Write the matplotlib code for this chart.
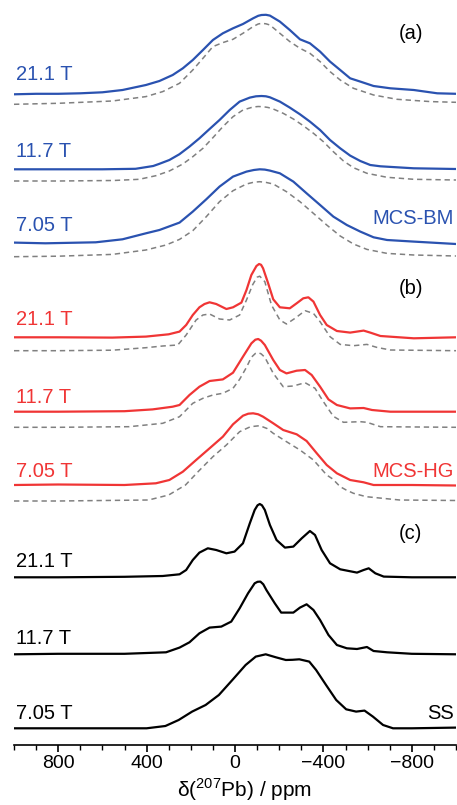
#!/usr/bin/env python3
"""Stacked 207Pb NMR spectra at three fields, with fitted curves (dashed)."""

import matplotlib
matplotlib.use("Agg")
import matplotlib.pyplot as plt
from matplotlib.ticker import MultipleLocator

plt.rcParams["font.family"] = ["Liberation Sans", "DejaVu Sans"]
plt.rcParams["mathtext.fontset"] = "custom"
plt.rcParams["mathtext.rm"] = "Liberation Sans"

BLUE = "#2a52b0"
RED = "#f03535"
GREY = "#808080"
BLACK = "#000000"

# ---- data: chemical shift (ppm) and intensity above each trace's baseline ----
# (a) MCS-BM
bm21_ppm = [1000, 900, 800, 700, 600, 509, 403, 342, 282, 236, 191, 145, 100, 55, 9,
            -36, -82, -105, -120, -140, -158, -203, -248, -294, -339, -385, -430,
            -476, -521, -567, -627, -703, -809, -915, -1000]
bm21_int = [0, 0.5, 0.5, 1, 2, 4.3, 9.3, 13.3, 19.3, 26, 34.3, 44.3, 54.3, 61, 66,
            70.3, 76, 78.5, 79.3, 79.5, 78.7, 72.7, 64.3, 55, 51, 42.7, 32.7,
            24.3, 16, 12.7, 8.3, 6, 4.3, 1, 0.5]
bm21_fit_ppm = [1000, 800, 555, 403, 327, 251, 191, 145, 100, 55, 9, -36, -82, -105,
                -120, -140, -158, -203, -248, -294, -339, -385, -430, -476, -536,
                -627, -733, -885, -1000]
bm21_fit_int = [0, 1, 3.3, 7.7, 12.7, 21, 34.3, 46, 57.7, 61.7, 65, 71, 77.7, 80.3,
                81, 80.5, 79.3, 71, 62.7, 56, 51, 42.7, 32.7, 24.3, 16,
                9.3, 5, 2.7, 2]

bm11_ppm = [1000, 800, 600, 450, 370, 342, 297, 252, 206, 161, 115, 70, 24, -21,
            -67, -95, -120, -140, -158, -203, -248, -294, -339, -385, -430, -476,
            -521, -567, -612, -658, -809, -1000]
bm11_int = [0, 0, 0, 0.5, 3.3, 5.5, 9.3, 15, 22.7, 31, 40.3, 49.3, 59.3, 67.7,
            71.7, 73, 73.3, 73, 72, 67.7, 61.7, 55, 47.7, 39.3, 29.3, 21,
            13.7, 8.3, 4.3, 3, 1, 0.3]
bm11_fit_ppm = [1000, 800, 550, 433, 358, 297, 236, 191, 145, 100, 55, 9, -36, -82,
                -105, -127, -150, -173, -218, -264, -309, -355, -400, -445, -491,
                -536, -597, -688, -809, -1000]
bm11_fit_int = [0, 0, 0.5, 1.7, 5.3, 10, 17, 24.3, 32.7, 43.3, 54.3, 64.3, 71, 74,
                74.5, 74.3, 73.5, 72, 67.7, 62, 55.3, 47.7, 39.3, 29.3, 20,
                13.3, 7.7, 3.7, 1.7, 1]

bm7_ppm = [1000, 858, 630, 509, 403, 342, 251, 191, 130, 70, 9, -52, -85, -112,
           -135, -158, -203, -264, -324, -385, -445, -506, -567, -627, -688, -809,
           -1000]
bm7_int = [0.7, 0, 1, 4, 10, 13.3, 20.7, 31.7, 44, 56.7, 66.7, 71.7, 73.3, 74,
           73.7, 72.7, 70, 61.7, 50, 38.3, 26.7, 18.3, 11.7, 6, 3.3, 1.7,
           -0.7]
bm7_fit_ppm = [1000, 800, 555, 403, 312, 251, 191, 130, 70, 9, -52, -85, -112,
               -140, -173, -233, -294, -355, -415, -476, -536, -597, -688, -809,
               -1000]
bm7_fit_int = [0, 0.5, 2.3, 6.7, 11.7, 17.3, 26, 40, 55, 66, 72.7, 74.5, 75,
               74.3, 72.7, 65, 55, 43.3, 31.7, 20.7, 12.7, 7.3, 3.3, 1.7,
               0.7]

# (b) MCS-HG
hg21_ppm = [1000, 800, 555, 403, 300, 251, 221, 191, 161, 138, 115, 85, 39, 9, -29,
            -52, -74, -97, -109, -118, -127, -150, -173, -203, -248, -279, -309,
            -332, -355, -385, -415, -461, -521, -582, -612, -658, -809, -1000]
hg21_int = [0, 0, -0.3, 0.7, 3, 5.7, 12.3, 22.3, 30, 33.3, 35, 33.3, 28.3, 30, 34.7,
            47.3, 62.3, 71.3, 73.3, 72.5, 69, 54, 38, 30, 29, 34, 39,
            40, 35.7, 22.3, 12.3, 6.3, 4.7, 6.7, 4.7, 1.3, -1, 0]
hg21_fit_ppm = [1000, 800, 555, 403, 327, 259, 221, 176, 145, 115, 70, 24, -21, -52,
                -80, -100, -112, -135, -165, -203, -233, -271, -317, -355, -385,
                -430, -476, -536, -597, -642, -703, -1000]
hg21_fit_int = [0, 0, 0.5, 3, 4.7, 5.7, 15.7, 30.7, 35.7, 36.7, 31.7, 30.7, 35.7, 50.7,
                66, 73.5, 74.5, 69, 45.7, 30.7, 26.7, 32.3, 40, 37.3, 29,
                14, 6.3, 5, 6.3, 3.3, 0.7, 0]

hg11_ppm = [1000, 800, 500, 373, 282, 251, 206, 161, 115, 55, 9, -36, -74, -92, -105,
            -118, -135, -173, -203, -233, -279, -317, -347, -385, -423, -461, -521,
            -582, -620, -703, -1000]
hg11_int = [0, 0, 0.5, 2.3, 5, 6.7, 16.7, 25, 30.7, 32.3, 39, 55, 68.3, 72, 72.7,
            71, 66.7, 51.7, 41.7, 38.3, 41, 41.7, 36.7, 25, 12.3, 6.7, 3.3,
            3.7, 1.7, 0, 0]
hg11_fit_ppm = [1000, 800, 479, 327, 251, 191, 145, 100, 55, 9, -21, -52, -74, -92,
                -105, -118, -135, -173, -218, -264, -317, -362, -400, -445, -491,
                -567, -597, -658, -1000]
hg11_fit_int = [0, 0, 0.6, 4, 10.6, 24, 29, 32.3, 34, 39, 48, 60, 70, 73.8,
                74.6, 73.5, 70, 54, 40.6, 41.3, 44.6, 39, 25.6, 11, 5,
                5.6, 5, 0.6, 0]

hg7_ppm = [1000, 800, 500, 358, 297, 236, 176, 115, 55, 9, -36, -60, -82, -105, -127,
           -173, -218, -279, -324, -370, -415, -461, -521, -582, -627, -800, -1000]
hg7_int = [0, 0.5, 0, 1.7, 5, 13.3, 25, 36.7, 48.3, 60.7, 69.3, 71.3, 71.7, 70.7, 68.3,
           61.7, 55, 50.7, 44, 31.7, 20, 11.7, 5, 2.7, 0, 0, -0.5]
hg7_fit_ppm = [1000, 800, 391, 300, 224, 164, 100, 39, -21, -70, -112, -145, -173,
               -233, -294, -355, -415, -442, -476, -503, -536, -594, -745, -1000]
hg7_fit_int = [0, 0, 1, 6, 16, 30, 44.3, 56, 69.3, 74.3, 75.3, 72.5, 67.7,
               59.3, 51, 41, 26, 22, 14.3, 11, 7.7, 4.3, 1, 0.5]

# (c) SS
ss21_ppm = [1000, 800, 500, 327, 251, 221, 191, 161, 123, 85, 39, 2, -36, -67, -89,
            -102, -112, -122, -135, -158, -188, -226, -264, -302, -339, -362, -392,
            -430, -476, -552, -582, -605, -635, -673, -800, -1000]
ss21_int = [0, 0, 0.5, 1.3, 3, 7.3, 17.3, 24.7, 29, 27.3, 24, 25.7, 34, 54, 67.3,
            72, 73.3, 72, 67.3, 52.3, 37.3, 29.7, 30.7, 39, 46.3, 42.3, 27.3,
            14, 8, 4.7, 7.3, 9, 4, 0.7, 0, 0]

ss11_ppm = [1000, 800, 500, 312, 251, 206, 161, 115, 62, 17, -21, -59, -89, -102,
            -115, -128, -142, -180, -209, -264, -294, -324, -355, -385, -423, -461,
            -506, -552, -597, -627, -688, -800, -1000]
ss11_int = [0, 0.5, 0.5, 2, 6.7, 12, 21, 26.7, 27.7, 32.7, 46, 61, 71, 72.5,
            72.7, 70, 64.3, 51, 41.7, 41.7, 46.7, 50, 44.3, 34.3, 19.3, 9.3,
            6, 5.3, 7.3, 3.3, 2, 0.5, 0]

ss7_ppm = [1000, 800, 400, 315, 255, 194, 133, 73, 12, -48, -94, -139, -185, -230,
           -260, -291, -336, -367, -412, -458, -503, -548, -586, -624, -670, -715,
           -800, -1000]
ss7_int = [0, 0, 0, 2.3, 8.3, 16.7, 23.3, 33.3, 48.3, 63.3, 71.7, 74, 71, 68.3,
           68.5, 69, 66.7, 58.3, 43.3, 28.3, 19, 16.7, 17.7, 11.7, 3.3, 0,
           0, 0.7]

field_labels = ["21.1 T", "11.7 T", "7.05 T"]
sample_labels = ["MCS-BM", "MCS-HG", "SS"]
panel_labels = ["(a)", "(b)", "(c)"]

# ---- layout (offsets are heights of each baseline above the x axis) ----
YMAX = 745
spectra = [
    # ppm, intensity, offset, colour, style
    (bm21_ppm, bm21_int, YMAX - 94.3, BLUE, "-"),
    (bm21_fit_ppm, bm21_fit_int, YMAX - 104.3, GREY, "--"),
    (bm11_ppm, bm11_int, YMAX - 169.3, BLUE, "-"),
    (bm11_fit_ppm, bm11_fit_int, YMAX - 181, GREY, "--"),
    (bm7_ppm, bm7_int, YMAX - 243.3, BLUE, "-"),
    (bm7_fit_ppm, bm7_fit_int, YMAX - 256.7, GREY, "--"),
    (hg21_ppm, hg21_int, YMAX - 337.3, RED, "-"),
    (hg21_fit_ppm, hg21_fit_int, YMAX - 350.7, GREY, "--"),
    (hg11_ppm, hg11_int, YMAX - 411.7, RED, "-"),
    (hg11_fit_ppm, hg11_fit_int, YMAX - 427.3, GREY, "--"),
    (hg7_ppm, hg7_int, YMAX - 485, RED, "-"),
    (hg7_fit_ppm, hg7_fit_int, YMAX - 501, GREY, "--"),
    (ss21_ppm, ss21_int, YMAX - 577.3, BLACK, "-"),
    (ss11_ppm, ss11_int, YMAX - 654.3, BLACK, "-"),
    (ss7_ppm, ss7_int, YMAX - 728.3, BLACK, "-"),
]

fig = plt.figure(figsize=(4.57, 8.05), dpi=100)
ax = fig.add_axes([14 / 457, 60 / 805, 442 / 457, 745 / 805])

for ppm, inten, off, col, ls in spectra:
    y = [v + off for v in inten]
    if ls == "--":
        ax.plot(ppm, y, color=col, lw=1.1, ls=(0, (3.5, 2.5)), zorder=2)
    else:
        ax.plot(ppm, y, color=col, lw=1.6, zorder=3, solid_joinstyle="round")

# text labels (baseline heights in the same units)
fs = 14.5
colors = [BLUE, RED, BLACK]
field_y = [[80, 156.7, 231], [325, 402.7, 476.7], [566.7, 644, 719]]
sample_y = [224.3, 476.7, 719]
panel_y = [39, 294, 539]
for i in range(3):
    for j in range(3):
        ax.text(990, YMAX - field_y[i][j], field_labels[j], color=colors[i],
                fontsize=fs, ha="left", va="baseline")
    ax.text(-990, YMAX - sample_y[i], sample_labels[i], color=colors[i],
            fontsize=fs, ha="right", va="baseline")
    ax.text(-795, YMAX - panel_y[i], panel_labels[i], color=BLACK,
            fontsize=fs, ha="center", va="baseline")

ax.set_xlim(1000, -1000)
ax.set_ylim(0, YMAX)
for s in ["left", "right", "top"]:
    ax.spines[s].set_visible(False)
ax.spines["bottom"].set_linewidth(1.2)
ax.set_yticks([])
ax.xaxis.set_major_locator(MultipleLocator(400))
ax.xaxis.set_minor_locator(MultipleLocator(100))
ax.tick_params(axis="x", which="major", direction="out", length=5, width=1.2,
               labelsize=14, pad=2)
ax.tick_params(axis="x", which="minor", direction="out", length=3.5, width=1.0)
ax.set_xticks([800, 400, 0, -400, -800])

# axis title, baseline placed just above the bottom edge
fig.text(244 / 457, 8 / 805, r"δ($^{\mathrm{207}}$Pb) / ppm", fontsize=15,
         ha="center", va="baseline")

fig.savefig("out.png", dpi=100)
